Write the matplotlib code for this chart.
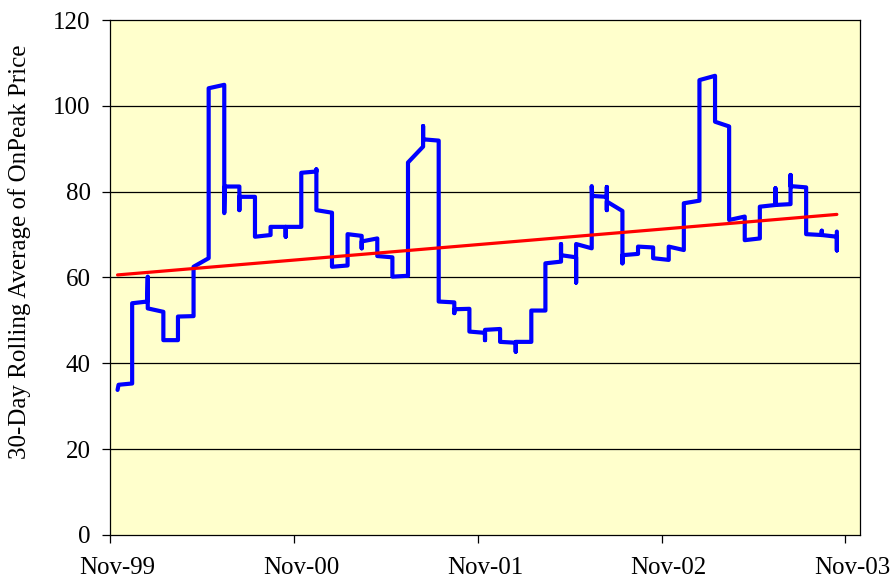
import matplotlib
matplotlib.use("Agg")
import matplotlib.pyplot as plt
import matplotlib.dates as mdates
import matplotlib.transforms as mtransforms
import pandas as pd

# ---- 30-day rolling average of on-peak price, vertices
dates = [
    "1999-11-16", "1999-11-18", "1999-12-15", "1999-12-15", "2000-01-14", "2000-01-15", "2000-01-15",
    "2000-02-15", "2000-02-15", "2000-03-15", "2000-03-15", "2000-04-15", "2000-04-15", "2000-05-15",
    "2000-05-15", "2000-06-15", "2000-06-15", "2000-06-16", "2000-07-15", "2000-07-15", "2000-07-15",
    "2000-08-15", "2000-08-15", "2000-09-15", "2000-09-15", "2000-10-15", "2000-10-15", "2000-10-15",
    "2000-11-15", "2000-11-15", "2000-12-15", "2000-12-15", "2000-12-15", "2001-01-15", "2001-01-15",
    "2001-02-15", "2001-02-15", "2001-03-15", "2001-03-15", "2001-03-15", "2001-04-15", "2001-04-15",
    "2001-05-15", "2001-05-15", "2001-06-15", "2001-06-15", "2001-07-15", "2001-07-15", "2001-07-15",
    "2001-08-15", "2001-08-15", "2001-09-15", "2001-09-15", "2001-09-15", "2001-10-15", "2001-10-15",
    "2001-11-15", "2001-11-15", "2001-11-15", "2001-12-15", "2001-12-15", "2002-01-15", "2002-01-15",
    "2002-01-15", "2002-02-15", "2002-02-15", "2002-03-15", "2002-03-15", "2002-04-15", "2002-04-15",
    "2002-04-15", "2002-05-15", "2002-05-15", "2002-05-15", "2002-06-15", "2002-06-15", "2002-06-16",
    "2002-07-15", "2002-07-15", "2002-07-15", "2002-07-15", "2002-08-15", "2002-08-15", "2002-08-15",
    "2002-09-15", "2002-09-15", "2002-10-15", "2002-10-15", "2002-11-15", "2002-11-15", "2002-12-15",
    "2002-12-15", "2003-01-15", "2003-01-15", "2003-02-15", "2003-02-15", "2003-03-15", "2003-03-15",
    "2003-04-15", "2003-04-15", "2003-05-15", "2003-05-15", "2003-06-15", "2003-06-15", "2003-06-15",
    "2003-07-15", "2003-07-15", "2003-07-15", "2003-08-15", "2003-08-15", "2003-09-15", "2003-09-15",
    "2003-09-15", "2003-10-15", "2003-10-15", "2003-10-15",
]
price = [
    33.8, 35.0, 35.3, 54.0, 54.4, 60.2, 52.8,
    52.0, 45.4, 45.4, 50.9, 51.0, 62.5, 64.5,
    104.1, 104.9, 75.0, 81.2, 81.2, 75.7, 78.8,
    78.8, 69.5, 69.9, 71.8, 71.8, 69.5, 71.8,
    71.8, 84.4, 84.7, 85.2, 75.7, 75.1, 62.5,
    62.8, 70.1, 69.7, 66.8, 68.4, 69.1, 65.0,
    64.7, 60.2, 60.4, 86.8, 90.5, 95.3, 92.2,
    91.9, 54.4, 54.2, 51.7, 52.6, 52.7, 47.4,
    47.1, 45.4, 47.8, 48.0, 45.0, 44.8, 42.7,
    45.0, 45.0, 52.3, 52.3, 63.3, 63.7, 67.8,
    65.2, 64.7, 58.8, 67.8, 66.8, 81.3, 79.0,
    78.8, 81.1, 75.7, 77.7, 75.5, 63.3, 65.2,
    65.5, 67.2, 67.0, 64.5, 64.1, 67.2, 66.4,
    77.3, 77.9, 106.0, 107.0, 96.3, 95.2, 73.4,
    74.2, 68.7, 69.1, 76.5, 76.9, 80.8, 76.9,
    77.1, 83.9, 81.3, 81.0, 70.1, 69.9, 70.9,
    69.9, 69.5, 66.3, 70.7,
]

# ---- linear trend line end points
trend_dates = ["1999-11-16", "2003-10-15"]
trend_vals = [60.6, 74.7]

y_ticks = [0, 20, 40, 60, 80, 100, 120]
x_ticks = ["1999-11-01", "2000-11-01", "2001-11-01", "2002-11-01", "2003-11-01"]

plt.rcParams['font.family'] = ['Liberation Serif', 'DejaVu Serif']

fig = plt.figure(figsize=(8.9, 5.82), dpi=100)
ax = fig.add_axes([0.1236, 0.0808, 0.8427, 0.8848])
ax.set_facecolor('#FFFFCC')

for g in y_ticks[1:-1]:
    ax.axhline(g, color='black', lw=0.9, zorder=1)

ax.plot(pd.to_datetime(dates), price, color='#0000FF', lw=3.0,
        solid_joinstyle='round', solid_capstyle='round', zorder=3)
ax.plot(pd.to_datetime(trend_dates), trend_vals, color='#FF0000', lw=2.3,
        solid_capstyle='round', zorder=4)

ax.set_ylim(0, 120)
ax.set_yticks(y_ticks)
ax.set_xlim(pd.Timestamp("1999-11-01"), pd.Timestamp("2003-11-30"))
ax.set_xticks(pd.to_datetime(x_ticks))
ax.xaxis.set_major_formatter(mdates.DateFormatter('%b-%y'))

ax.tick_params(axis='both', direction='out', length=6, width=0.9, labelsize=18)
ax.tick_params(axis='y', pad=8)
ax.tick_params(axis='x', pad=10)
for s in ax.spines.values():
    s.set_linewidth(0.9)
    s.set_color('black')

# Excel puts the date labels slightly right of their ticks
shift = mtransforms.ScaledTranslation(7 / 100, 0, fig.dpi_scale_trans)
for lbl in ax.get_xticklabels():
    lbl.set_transform(lbl.get_transform() + shift)

ax.set_ylabel('30-Day Rolling Average of OnPeak Price', fontsize=18)
ax.yaxis.set_label_coords(-0.106, 0.55)

fig.savefig('out.png', dpi=100)
